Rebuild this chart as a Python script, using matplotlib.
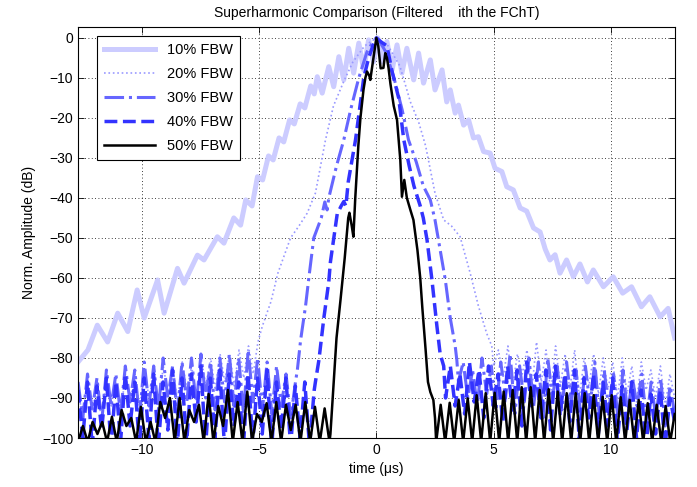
import numpy as np
import matplotlib
matplotlib.use("Agg")
from matplotlib import pyplot as plt

plt.rcParams["font.family"] = ["Liberation Sans", "DejaVu Sans"]
plt.rcParams["font.size"] = 10

labels = ["10% FBW", "20% FBW", "30% FBW", "40% FBW", "50% FBW"]

# 10% FBW, read peak by peak
t10 = [-12.72, -12.3, -11.9, -11.46, -11.03, -10.6, -10.2, -9.9, -9.33, -9.05,
       -8.48, -8.2, -7.63, -7.35, -6.78, -6.5, -6.08, -5.79, -5.57, -5.3,
       -5.07, -4.85, -4.6, -4.4, -4.15, -3.95, -3.7, -3.5, -3.25, -3.05,
       -2.8, -2.65, -2.52, -2.31, -2.03, -1.82, -1.6, -1.39, -1.18, -0.97,
       -0.75, -0.54, -0.33, -0.12, 0.06, 0.24, 0.45, 0.67, 0.88, 1.09,
       1.3, 1.59, 1.8, 2.01, 2.3, 2.5, 2.8, 3.0, 3.15, 3.36,
       3.5, 3.72, 3.93, 4.14, 4.35, 4.57, 4.85, 5.06, 5.35, 5.56,
       5.84, 6.13, 6.41, 6.7, 6.98, 7.2, 7.4, 7.62, 7.83, 8.11,
       8.4, 8.68, 9.0, 9.25, 9.68, 10.1, 10.5, 10.88, 11.3, 11.66,
       12.1, 12.44, 12.72]
v10 = [-81, -78, -71.8, -76, -68.8, -73.4, -63, -70, -60.5, -68.8,
       -57.6, -61.3, -54.3, -55.5, -49.7, -51.3, -45, -46.8, -40.5, -42,
       -34.7, -35.5, -29.5, -30.5, -25, -26, -20.5, -21.5, -16.5, -17.5,
       -12, -14, -9.7, -13.8, -7.2, -12.2, -4.7, -10.5, -2.6, -8.8,
       -1.3, -8, -0.5, -6, 0, -6, -0.9, -8, -1.75, -8.8,
       -2.6, -10.5, -3.8, -11.3, -5.5, -13, -8, -16, -13, -18.8,
       -16.8, -21.8, -20.5, -25, -24.7, -28.4, -28.8, -32.6, -33.4, -37.2,
       -38, -42.5, -43.3, -47.5, -48.5, -52.8, -55.5, -54.2, -58.8, -55.5,
       -59.7, -56.5, -61, -58, -62.2, -59.7, -63.8, -62.2, -67.2, -64.7,
       -69.7, -67.6, -75]

# 20% FBW
v20_left = [-88, -95, -86, -93, -87, -96, -85, -92, -86, -94, -84, -91, -84, -93,
            -83, -90, -84, -92, -82, -89, -82, -91, -81, -88, -82, -90, -80, -87,
            -80, -88, -79, -86, -79, -87, -78, -85, -77, -84, -76]
t20 = [-4.86, -4.5, -4.2, -3.66, -3.3, -2.95, -2.6, -2.38, -2.17, -1.83,
       -1.4, -1.0, -0.5, 0.0, 0.5, 1.0, 1.45, 1.8, 2.1, 2.5,
       2.87, 3.2, 3.57, 4.0, 4.35, 4.7, 4.92]
v20 = [-72, -66, -58.8, -50, -47, -43.8, -38.8, -32, -25.5, -17,
       -11, -6, -2, 0, -2, -7, -16, -21, -27, -38.8,
       -45.5, -47, -49.7, -58.8, -67, -73.8, -77]
v20_right = [-82, -78, -85, -77, -87, -79, -84, -78, -88, -76, -86, -78, -89, -77,
             -87, -79, -88, -78, -90, -80, -87, -79, -89, -80, -88, -81, -90, -80,
             -89, -82, -91, -81, -88, -83, -90, -82, -92, -84, -90]

# 30% FBW
v30_left = [-86, -95, -84, -93, -85, -96, -83, -92, -84, -94, -82, -91, -83, -95,
            -81, -92, -82, -93, -80, -90, -82, -94, -81, -91, -80, -92, -79, -90,
            -81, -93, -80, -91, -79, -92, -80, -94, -78, -91, -80, -93, -81, -94,
            -82, -92, -84, -95, -86]
t30 = [-3.37, -3.23, -3.02, -2.88, -2.67, -2.35, -2.2, -2.1, -2.03, -1.7,
       -1.39, -1.1, -0.75, -0.4, -0.15, 0.0, 0.15, 0.4, 0.75, 1.1,
       1.37, 1.7, 2.0, 2.3, 2.5, 2.72, 2.94, 3.15, 3.36, 3.43]
v30 = [-83, -75.5, -67, -60, -50, -45, -41, -43, -40, -32,
       -25.5, -18, -10, -3.5, -1, 0, -1, -3.5, -10, -18,
       -25.5, -31, -37, -40.5, -45.5, -53, -60.5, -70, -77, -80.5]
v30_right = [-86, -81, -90, -83, -92, -80, -89, -82, -93, -81, -90, -79, -94, -82,
             -91, -80, -92, -81, -95, -80, -90, -82, -93, -81, -91, -83, -94, -82,
             -92, -81, -95, -83, -93, -84, -96, -83, -94, -85, -92, -84, -96, -86,
             -95, -85, -97, -87, -94]

# 40% FBW
v40_left = [-88, -100, -86, -102, -87, -98, -85, -102, -86, -101, -84, -97, -86, -102,
            -85, -100, -84, -102, -86, -98, -83, -102, -85, -101, -84, -96, -82, -102,
            -85, -100, -83, -102, -84, -97, -86, -102, -84, -101, -85, -99, -83, -102,
            -86, -98, -85, -102, -87, -100, -86, -102, -88]
t40 = [-2.6, -2.45, -2.24, -2.03, -1.96, -1.67, -1.5, -1.39, -1.3, -1.2,
       -0.89, -0.7, -0.54, -0.33, -0.15, 0.0, 0.2, 0.45, 0.67, 0.95,
       1.17, 1.4, 1.6, 1.87, 2.0, 2.16, 2.37, 2.58, 2.72, 2.87]
v40 = [-86, -80.5, -70, -61, -56, -44, -42, -40.9, -42, -36,
       -25.5, -17, -10, -5, -2, 0, -1, -2, -8.4, -15,
       -25.5, -32, -37, -42, -45, -50.5, -60.5, -72, -79, -82]
v40_right = [-90, -82, -92, -84, -94, -81, -91, -83, -95, -82, -92, -84, -96, -82,
             -93, -83, -97, -81, -92, -84, -95, -83, -98, -82, -94, -84, -96, -83,
             -100, -85, -95, -84, -99, -86, -97, -85, -101, -87, -98, -86, -100, -88,
             -102, -89, -99, -88, -102, -90, -96]

# 50% FBW
v50_left = [-101, -97, -101, -96, -99, -96, -101, -94.7, -101, -93, -97, -95, -101,
            -92.2, -101, -96, -101, -91, -95, -90, -101, -90, -101, -93, -96, -91.7,
            -101, -89, -101, -92, -97, -88, -101, -91, -101, -88.4, -101, -94, -96,
            -91.3, -101, -91, -101, -91.7, -98, -91.7, -101, -91, -101, -92.2, -101,
            -92.6, -101]
t50 = [-1.96, -1.83, -1.7, -1.53, -1.35, -1.2, -1.15, -1.05, -0.98, -0.9,
       -0.77, -0.68, -0.55, -0.47, -0.4, -0.3, -0.26, -0.2, -0.1, 0.0,
       0.08, 0.18, 0.3, 0.38, 0.45, 0.52, 0.6, 0.74, 0.88, 1.02,
       1.09, 1.19, 1.3, 1.45, 1.58, 1.75, 1.87, 1.96, 2.1, 2.2,
       2.3, 2.43, 2.5]
v50 = [-99, -87, -75, -65.5, -55, -45, -43.7, -47, -49.7, -40,
       -27, -20, -13, -10, -8.4, -9.5, -10.5, -8, -4, 0,
       -2, -7.6, -7.5, -3.8, -5, -7.6, -11.5, -17, -20.5, -30.5,
       -39.7, -35.5, -40, -43, -45.5, -53, -60, -67.5, -78, -86,
       -88.5, -90.5, -95]
v50_right = [-101, -91.7, -101, -91.2, -101, -90.5, -101, -90.1, -101, -89.3, -101,
             -88.8, -101, -88.7, -101, -88.4, -101, -88, -101, -87.3, -101, -87.3,
             -101, -88, -101, -87.8, -101, -88.4, -101, -88.8, -101, -88.8, -101,
             -88.8, -101, -89.3, -101, -89.7, -101, -89.3, -101, -89.8, -101, -90.5,
             -101, -90.5, -101, -91.3, -101, -91.7, -101, -92, -101, -94]


def join(left, left_span, t_mid, v_mid, right, right_span):
    """floor samples sit evenly between the span ends, the lobe is listed point by point"""
    tl = np.linspace(left_span[0], left_span[1], len(left))
    tr = np.linspace(right_span[0], right_span[1], len(right))
    return (np.concatenate([tl, t_mid, tr]),
            np.concatenate([left, v_mid, right]))


series = [
    (np.array(t10), np.array(v10)),
    join(v20_left, (-12.72, -5.05), t20, v20, v20_right, (5.0, 12.72)),
    join(v30_left, (-12.72, -3.45), t30, v30, v30_right, (3.5, 12.72)),
    join(v40_left, (-12.72, -2.65), t40, v40, v40_right, (2.95, 12.72)),
    join(v50_left, (-12.72, -2.0), t50, v50, v50_right, (2.55, 12.72)),
]
styles = [
    dict(color=(0.8, 0.8, 1.0), linestyle="-", linewidth=3.6),
    dict(color=(0.6, 0.6, 1.0), linestyle=":", linewidth=1.2),
    dict(color=(0.4, 0.4, 1.0), linestyle="-.", linewidth=2.2),
    dict(color=(0.2, 0.2, 1.0), linestyle="--", linewidth=2.5),
    dict(color="black", linestyle="-", linewidth=1.8),
]

fig = plt.figure(figsize=(6.97, 4.87), dpi=100)
ax = fig.add_axes([0.112, 0.1006, 0.856, 0.8446])

for (t, v), st, lab in zip(series, styles, labels):
    ax.plot(t, v, label=lab, **st)

ax.set_xlim(-12.72, 12.72)
ax.set_ylim(-100, 2.8)
ax.set_xticks([-10, -5, 0, 5, 10])
ax.set_yticks(np.arange(-100, 1, 10))
ax.tick_params(direction="in", top=True, right=True, length=4, width=0.6, labelsize=10)
ax.grid(True, linestyle=(0, (1, 3)), color="black", linewidth=0.6)
for s in ax.spines.values():
    s.set_linewidth(0.8)

ax.set_title("Superharmonic Comparison (Filtered    ith the FChT)", fontsize=10, pad=7)
ax.set_xlabel("time (\u03bcs)", fontsize=10)
ax.set_ylabel("Norm. Amplitude (dB)", fontsize=10)

leg = ax.legend(loc="upper left", bbox_to_anchor=(0.032, 0.977), borderaxespad=0,
                fancybox=False, framealpha=1, edgecolor="black", fontsize=10.5,
                handlelength=3.5, labelspacing=0.68, borderpad=0.5)
leg.get_frame().set_linewidth(0.8)

fig.savefig("out.png", dpi=100)
